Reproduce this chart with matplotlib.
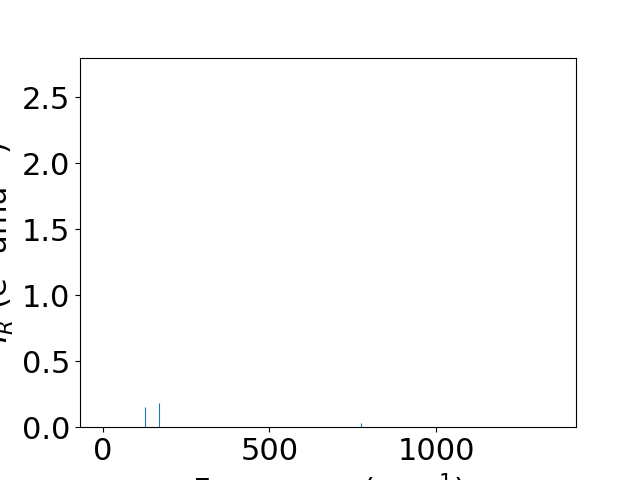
import numpy as np
import matplotlib.pyplot as plt

# stick spectrum: frequency (cm-1) and intensity
freqs = [127, 169, 685, 775]
intens = [0.15, 0.18, 0.005, 0.03]

plt.rcParams['font.size'] = 22

fig, ax = plt.subplots(figsize=(6.4, 4.8), dpi=100)
ax.vlines(freqs, 0, intens, colors='C0', linewidth=0.8)
ax.set_xlim(-68, 1420)
ax.set_ylim(0, 2.8)
ax.set_xlabel('Frequency (cm$^{-1}$)')
ax.set_ylabel('$I_R$ (e$^2$ amu$^{-1}$)')

fig.savefig('out.png', dpi=100)
